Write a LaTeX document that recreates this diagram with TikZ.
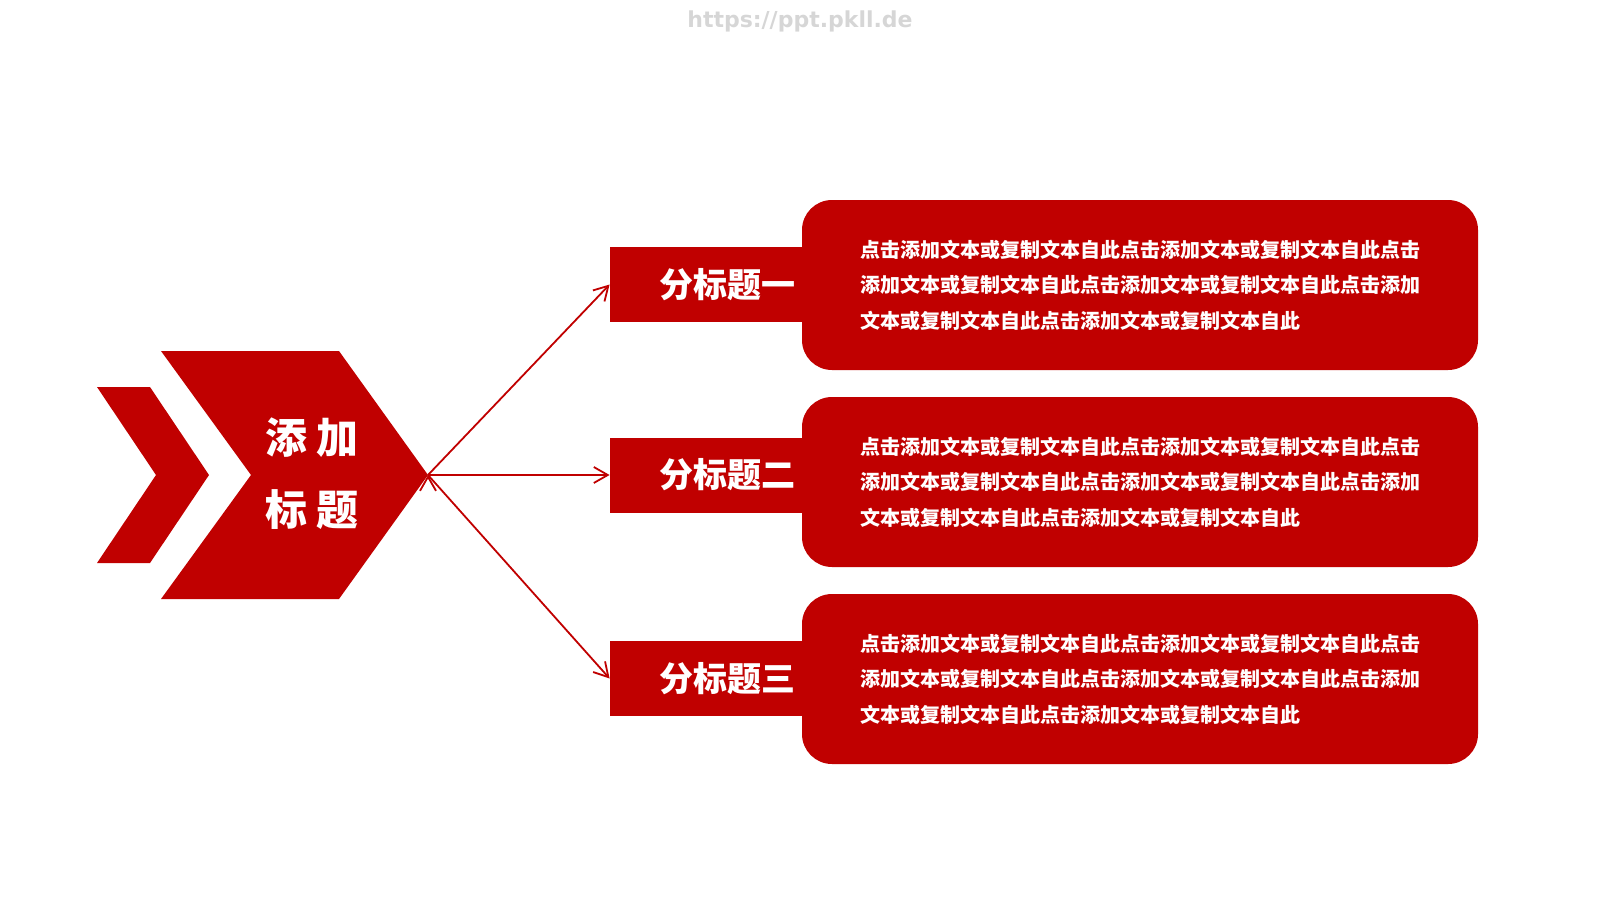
\documentclass[tikz,border=0pt]{standalone}
\usepackage{fontspec}
\newfontfamily\cjk{Noto Sans CJK SC}
\newfontfamily\wm{DejaVu Sans}
\usetikzlibrary{arrows.meta}
\definecolor{deepred}{RGB}{192,0,0}

\begin{document}
\begin{tikzpicture}[x=0.5pt,y=-0.5pt,
	>={Straight Barb[length=7pt,width=8pt]},
	title/.style={text=white,align=center,font=\cjk\bfseries\fontsize{21}{36}\selectfont},
	sub/.style={fill=deepred,text=white,minimum width=117.5pt,minimum height=37.5pt,inner sep=0pt,font=\cjk\bfseries\fontsize{17}{20}\selectfont},
	info/.style={fill=deepred,text=white,rounded corners=15pt,minimum width=338pt,minimum height=85pt,align=left,font=\cjk\bfseries\fontsize{10}{17.8}\selectfont},
	link/.style={draw=deepred,line width=0.9pt}]

	\useasboundingbox (0,0) rectangle (1600,900);

	\node[text=black!16,font=\wm\bfseries\fontsize{11}{12}\selectfont] (mark) at (800,21) {https://ppt.pkll.de};

	% chevrons
	\fill[deepred] (97,387) -- (150,387) -- (209,475) -- (150,563) -- (97,563) -- (156,475) -- cycle;
	\fill[deepred] (161,351) -- (339,351) -- (428,475) -- (339,599) -- (161,599) -- (251,475) -- cycle;
	\node[title] (title) at (312,474) {添\ 加\\标\ 题};
	\coordinate (tip) at (428,475);

	\node[sub] (sub1) at (727.5,284.5) {分标题一};
	\node[sub] (sub2) at (727.5,475) {分标题二};
	\node[sub] (sub3) at (727.5,678.5) {分标题三};

	\node[info] (info1) at (1140,285) {点击添加文本或复制文本自此点击添加文本或复制文本自此点击\\添加文本或复制文本自此点击添加文本或复制文本自此点击添加\\文本或复制文本自此点击添加文本或复制文本自此};
	\node[info] (info2) at (1140,482) {点击添加文本或复制文本自此点击添加文本或复制文本自此点击\\添加文本或复制文本自此点击添加文本或复制文本自此点击添加\\文本或复制文本自此点击添加文本或复制文本自此};
	\node[info] (info3) at (1140,679) {点击添加文本或复制文本自此点击添加文本或复制文本自此点击\\添加文本或复制文本自此点击添加文本或复制文本自此点击添加\\文本或复制文本自此点击添加文本或复制文本自此};

	\path[->,link]
	(tip) edge (sub1.west)
	      edge (sub2.west)
	      edge (sub3.west);

\end{tikzpicture}
\end{document}
